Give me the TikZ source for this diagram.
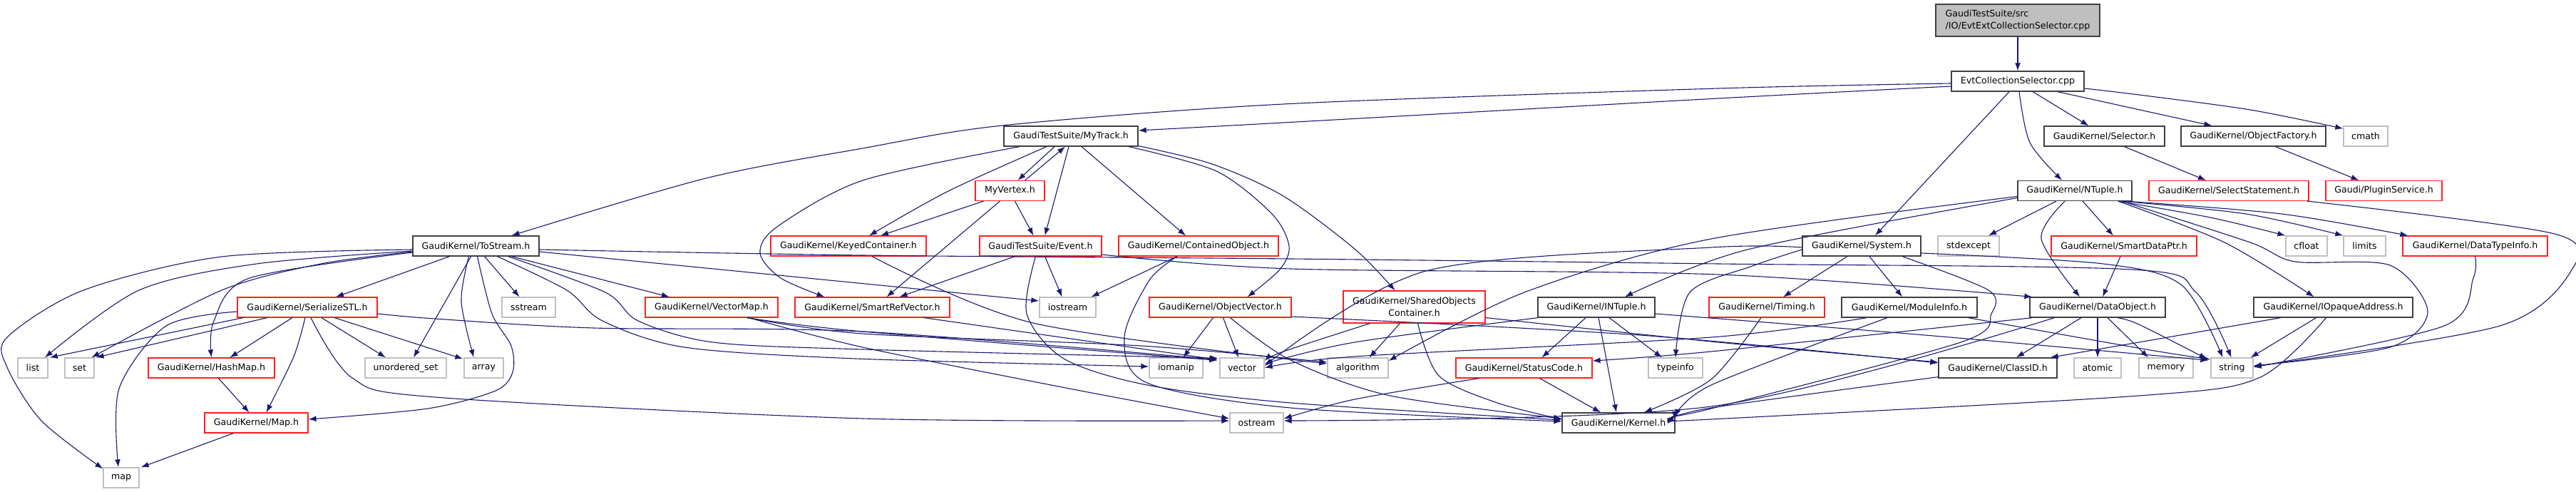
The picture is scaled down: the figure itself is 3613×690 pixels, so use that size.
\documentclass[tikz,border=0pt]{standalone}
\usepackage{fontspec}
\setmainfont{DejaVu Sans}
\usetikzlibrary{arrows.meta,calc}
\definecolor{edgec}{HTML}{191970}
\definecolor{boxk}{HTML}{404040}
\definecolor{boxr}{HTML}{FF2020}
\definecolor{boxg}{HTML}{BFBFBF}
\tikzset{
  x=1pt,y=-1pt,
  nb/.style={draw=boxk, line width=1.3pt, inner sep=0pt, font=\fontsize{12.6}{17.3}\selectfont, text=black},
  nr/.style={nb, draw=boxr, line width=1.1pt},
  ng/.style={nb, draw=boxg},
  e/.style={draw=edgec, line width=1.1pt, -{Latex[length=11pt,width=8pt]}},
}
\newcommand\ed[1]{\draw[e] plot[smooth,tension=.5] coordinates {#1};}
\begin{document}
\begin{tikzpicture}
\useasboundingbox (0,0) rectangle (3613,690);
% nodes
\node[nb,fill=boxg,minimum width=230pt,minimum height=45pt,align=left] (root) at (2830,28.5) {GaudiTestSuite/src\\/IO/EvtExtCollectionSelector.cpp};
\node[nb,minimum width=186pt,minimum height=28pt] (ecs) at (2830,114) {EvtCollectionSelector.cpp};
\node[nb,minimum width=188pt,minimum height=28pt] (mytrack) at (1502,191) {GaudiTestSuite/MyTrack.h};
\node[nb,minimum width=169pt,minimum height=28pt] (selector) at (2951.5,191) {GaudiKernel/Selector.h};
\node[nb,minimum width=203pt,minimum height=28pt] (objfactory) at (3160.5,191) {GaudiKernel/ObjectFactory.h};
\node[ng,minimum width=62pt,minimum height=28pt] (cmath) at (3318,191) {cmath};
\node[nr,minimum width=97pt,minimum height=28pt] (myvertex) at (1416.5,267.5) {MyVertex.h};
\node[nb,minimum width=160pt,minimum height=28pt] (ntuple) at (2910,267.5) {GaudiKernel/NTuple.h};
\node[nr,minimum width=224pt,minimum height=28pt] (selectstmt) at (3126,267.5) {GaudiKernel/SelectStatement.h};
\node[nr,minimum width=163pt,minimum height=28pt] (plugin) at (3343.5,267.5) {Gaudi/PluginService.h};
\node[nb,minimum width=177pt,minimum height=28pt] (tostream) at (667.5,345) {GaudiKernel/ToStream.h};
\node[nr,minimum width=218pt,minimum height=28pt] (keyed) at (1190,345) {GaudiKernel/KeyedContainer.h};
\node[nr,minimum width=171pt,minimum height=28pt] (event) at (1459.5,345) {GaudiTestSuite/Event.h};
\node[nr,minimum width=224pt,minimum height=28pt] (contained) at (1681,345) {GaudiKernel/ContainedObject.h};
\node[nb,minimum width=166pt,minimum height=28pt] (system) at (2611,345) {GaudiKernel/System.h};
\node[ng,minimum width=86pt,minimum height=28pt] (stdexcept) at (2761,345) {stdexcept};
\node[nr,minimum width=204pt,minimum height=28pt] (smartdataptr) at (2979,345) {GaudiKernel/SmartDataPtr.h};
\node[ng,minimum width=58pt,minimum height=28pt] (cfloat) at (3235,345) {cfloat};
\node[ng,minimum width=59pt,minimum height=28pt] (limits) at (3316.5,345) {limits};
\node[nr,minimum width=203pt,minimum height=28pt] (datatypeinfo) at (3471.5,345) {GaudiKernel/DataTypeInfo.h};
\node[nr,minimum width=196pt,minimum height=28pt] (serialize) at (431,431) {GaudiKernel/SerializeSTL.h};
\node[ng,minimum width=75pt,minimum height=28pt] (sstream) at (741.5,431) {sstream};
\node[nr,minimum width=186pt,minimum height=28pt] (vectormap) at (998,431) {GaudiKernel/VectorMap.h};
\node[nr,minimum width=217pt,minimum height=28pt] (smartref) at (1223.5,431) {GaudiKernel/SmartRefVector.h};
\node[ng,minimum width=79pt,minimum height=28pt] (iostream) at (1497.5,431) {iostream};
\node[nr,minimum width=199pt,minimum height=28pt] (objvector) at (1711.5,431) {GaudiKernel/ObjectVector.h};
\node[nr,minimum width=199pt,minimum height=45pt,align=center] (shared) at (1983.5,430.5) {GaudiKernel/SharedObjects\\Container.h};
\node[nb,minimum width=164pt,minimum height=28pt] (intuple) at (2239,431) {GaudiKernel/INTuple.h};
\node[nr,minimum width=162pt,minimum height=28pt] (timing) at (2478,431) {GaudiKernel/Timing.h};
\node[nb,minimum width=190pt,minimum height=28pt] (moduleinfo) at (2678,431) {GaudiKernel/ModuleInfo.h};
\node[nb,minimum width=190pt,minimum height=28pt] (dataobject) at (2942,431) {GaudiKernel/DataObject.h};
\node[nb,minimum width=223pt,minimum height=28pt] (iopaque) at (3272.5,431) {GaudiKernel/IOpaqueAddress.h};
\node[ng,minimum width=42pt,minimum height=28pt] (list) at (46,516) {list};
\node[ng,minimum width=41pt,minimum height=28pt] (set) at (111.5,516) {set};
\node[nr,minimum width=177pt,minimum height=28pt] (hashmap) at (296.5,516) {GaudiKernel/HashMap.h};
\node[ng,minimum width=114pt,minimum height=28pt] (unordset) at (569,516) {unordered\_set};
\node[ng,minimum width=55pt,minimum height=28pt] (array) at (678.5,516) {array};
\node[ng,minimum width=75pt,minimum height=28pt] (iomanip) at (1649.5,516) {iomanip};
\node[ng,minimum width=62pt,minimum height=28pt] (vector) at (1742,516) {vector};
\node[ng,minimum width=85pt,minimum height=28pt] (algorithm) at (1904.5,516) {algorithm};
\node[nr,minimum width=191pt,minimum height=28pt] (statuscode) at (2137.5,516) {GaudiKernel/StatusCode.h};
\node[ng,minimum width=76pt,minimum height=28pt] (typeinfo) at (2350,516) {typeinfo};
\node[nb,minimum width=166pt,minimum height=28pt] (classid) at (2802,516) {GaudiKernel/ClassID.h};
\node[ng,minimum width=66pt,minimum height=28pt] (atomic) at (2942,516) {atomic};
\node[ng,minimum width=76pt,minimum height=28pt] (memory) at (3038,516) {memory};
\node[ng,minimum width=59pt,minimum height=28pt] (string) at (3130.5,516) {string};
\node[nr,minimum width=145pt,minimum height=28pt] (mapH) at (359.5,593) {GaudiKernel/Map.h};
\node[ng,minimum width=75pt,minimum height=28pt] (ostream) at (1762.5,593) {ostream};
\node[nb,minimum width=158pt,minimum height=28pt] (kernel) at (2270,593) {GaudiKernel/Kernel.h};
\node[ng,minimum width=50pt,minimum height=28pt] (map) at (170,670) {map};
% edges
\draw[e] (root.south) -- (ecs.north);
\ed{($(ecs.west)+(0,7)$) (2410,138) (1800,172) ($(mytrack.east)+(0,-8)$)}
\ed{($(ecs.west)+(0,3)$) (2410,124) (1800,146) (1406,176) (1210,208) (990,250) ($(tostream.north)+(50,0)$)}
\draw[e] ($(ecs.south)+(-12,0)$) -- ($(system.north)+(19,0)$);
\ed{($(ecs.south)+(2,0)$) (2847,200) ($(ntuple.north)+(-18,0)$)}
\draw[e] ($(ecs.south)+(21,0)$) -- ($(selector.north)+(-22,0)$);
\draw[e] ($(ecs.south)+(56,0)$) -- ($(objfactory.north)+(-58,0)$);
\ed{($(ecs.east)+(0,10)$) (3000,133) (3156,154) ($(cmath.north west)+(0,4)$)}
\draw[e] ($(mytrack.south)+(-23,0)$) -- ($(myvertex.north)+(11,0)$);
\draw[e] ($(myvertex.north)+(21,0)$) -- ($(mytrack.south)+(-8,0)$);
\draw[e] ($(mytrack.south)+(-3,0)$) -- ($(event.north)+(6,0)$);
\ed{($(mytrack.south)+(-34,0)$) (1330,268) ($(keyed.north)+(29,0)$)}
\draw[e] ($(myvertex.south)+(-37,0)$) -- ($(keyed.north)+(45,0)$);
\draw[e] ($(mytrack.south)+(15,0)$) -- ($(contained.north)+(-18,0)$);
\ed{($(mytrack.south)+(-72,0)$) (1210,253) (1090,318) (1066,355) (1095,390) ($(smartref.north)+(-67,0)$)}
\draw[e] ($(myvertex.south)+(-14,0)$) -- ($(smartref.north)+(20,0)$);
\draw[e] ($(myvertex.south)+(7,0)$) -- ($(event.north)+(-10,0)$);
\ed{($(mytrack.south)+(81,0)$) (1706,240) (1784,300) (1808,345) (1795,378) ($(objvector.north)+(38,0)$)}
\ed{($(mytrack.south east)+(0,-1)$) (1700,230) (1800,275) (1901,350) ($(shared.north)+(-27,0)$)}
% ToStream
\draw[e] ($(tostream.south)+(12,0)$) -- ($(sstream.north)+(-13,0)$);
\draw[e] ($(tostream.south)+(-7,0)$) -- ($(unordset.north)+(11,0)$);
\ed{($(tostream.south)+(-10,0)$) (647,423) ($(array.north)+(-14,0)$)}
\ed{($(tostream.south)+(2,0)$) (690,440) (717,485) (719,522) (695,548) (600,573) ($(mapH.east)+(0,-5)$)}
\ed{($(tostream.south)+(30,0)$) (795,407) (845,450) (960,487) (1200,503) ($(iomanip.west)+(0,-2)$)}
\ed{($(tostream.south)+(45,0)$) (849,410) (895,450) (1000,480) (1210,490) ($(vector.north west)+(-2,1)$)}
\draw[e] ($(tostream.south)+(50,0)$) -- ($(vectormap.north)+(-59,0)$);
\draw[e] ($(tostream.east)+(0,8)$) -- ($(iostream.west)+(0,-9)$);
\ed{($(tostream.east)+(0,5)$) (1210,358) (1810,363) (2410,370) (2990,378) (3080,410) ($(string.north)+(-1,0)$)}
\draw[e] ($(tostream.south)+(-37,0)$) -- ($(serialize.north)+(40,0)$);
\ed{($(tostream.west)+(0,5)$) (311,360) (117,407) (10,473) (10,515) (58,590) ($(map.north west)+(0,2)$)}
\ed{($(tostream.west)+(0,7)$) (360,370) (195,407) ($(list.north)+(17,0)$)}
\ed{($(tostream.west)+(0,8)$) (450,370) (311,407) ($(set.north)+(17,0)$)}
\ed{($(tostream.west)+(0,9)$) (350,390) (300,450) (hashmap.north)}
% SerializeSTL
\ed{($(serialize.west)+(0,6)$) (233,457) (167,545) ($(map.north)+(-4,0)$)}
\draw[e] ($(serialize.south west)+(9,0)$) -- ($(list.north east)+(2,0)$);
\draw[e] ($(serialize.south)+(-56,0)$) -- ($(set.north east)+(2,0)$);
\draw[e] ($(serialize.south)+(-21,0)$) -- ($(hashmap.north)+(26,0)$);
\ed{($(serialize.south)+(-3,0)$) (412,500) ($(mapH.north)+(14,0)$)}
\draw[e] ($(hashmap.south)+(10,0)$) -- ($(mapH.north)+(-10,0)$);
\draw[e] ($(mapH.south)+(-32,0)$) -- ($(map.north east)+(2,0)$);
\ed{($(serialize.south)+(5,0)$) (494,530) (610,557) (1210,587) ($(ostream.west)+(0,-3)$)}
\draw[e] ($(serialize.south)+(20,0)$) -- ($(unordset.north)+(-28,0)$);
\draw[e] ($(serialize.south)+(38,0)$) -- ($(array.north west)+(-1,2)$);
\ed{($(serialize.east)+(0,9)$) (610,447) (833,460) (1210,465) ($(vector.north west)+(-3,3)$)}
% VectorMap
\ed{($(vectormap.south)+(49,0)$) (1210,465) ($(vector.north west)+(-3,4)$)}
\ed{($(vectormap.south)+(50,0)$) (1210,468) (1600,485) ($(algorithm.west)+(0,-8)$)}
\ed{($(vectormap.south)+(52,0)$) (1210,487) (1500,545) ($(ostream.west)+(0,-6)$)}
\draw[e] ($(smartref.south)+(72,0)$) -- ($(vector.north west)+(-3,3)$);
\ed{($(keyed.south)+(33,0)$) (1449,453) ($(algorithm.west)+(0,-6)$)}
% Event
\draw[e] ($(event.south)+(-36,0)$) -- ($(smartref.north)+(38,0)$);
\draw[e] ($(event.south)+(6,0)$) -- ($(iostream.north)+(-8,0)$);
\ed{($(event.south)+(-7,0)$) (1440,440) (1492,503) (1609,540) (1810,565) ($(kernel.west)+(0,-4)$)}
\ed{($(event.east)+(0,12)$) (1810,377) (2410,385) ($(dataobject.north west)+(4,0)$)}
% Contained
\draw[e] ($(contained.south)+(-30,0)$) -- ($(iostream.north)+(33,0)$);
\ed{($(contained.south)+(-30,0)$) (1612,393) (1577,473) (1609,537) (1810,572) ($(kernel.west)+(0,-2)$)}
% ObjectVector
\draw[e] ($(objvector.south)+(-10,0)$) -- ($(iomanip.north)+(10,0)$);
\draw[e] ($(objvector.south)+(4,0)$) -- ($(vector.north)+(-5,0)$);
\ed{($(objvector.south)+(14,0)$) (1810,505) (1950,555) ($(kernel.west)+(0,-6)$)}
\ed{($(objvector.east)+(0,13)$) (2300,470) ($(classid.west)+(0,-7)$)}
% Shared
\ed{($(shared.south)+(-62,0)$) (1800,493) ($(vector.east)+(0,-10)$)}
\draw[e] ($(shared.south)+(-20,0)$) -- ($(algorithm.north)+(16,0)$);
\ed{($(shared.south)+(5,0)$) (2018,527) (2100,565) ($(kernel.west)+(0,-5)$)}
\ed{($(shared.east)+(0,15)$) (2410,480) ($(classid.west)+(0,-8)$)}
% INTuple
\draw[e] ($(intuple.south)+(-15,0)$) -- ($(statuscode.north)+(25,0)$);
\draw[e] ($(intuple.south)+(3,0)$) -- ($(kernel.north)+(-3,0)$);
\draw[e] ($(intuple.south)+(18,0)$) -- ($(typeinfo.north)+(-19,0)$);
\ed{(intuple.south west) (1900,480) ($(vector.east)+(0,-6)$)}
\ed{($(intuple.east)+(0,9)$) (2700,470) ($(string.north west)+(-3,4)$)}
% StatusCode
\ed{($(statuscode.south)+(-63,0)$) (1900,560) ($(ostream.east)+(0,-6)$)}
\draw[e] ($(statuscode.south)+(22,0)$) -- ($(kernel.north)+(-25,0)$);
\ed{($(timing.south)+(-8,0)$) (2400,532) ($(kernel.north)+(36,0)$)}
% System
\draw[e] ($(system.south)+(-20,0)$) -- ($(timing.north)+(23,0)$);
\draw[e] ($(system.south)+(11,0)$) -- ($(moduleinfo.north)+(-10,0)$);
\ed{($(system.south)+(57,0)$) (2789,407) (2793,440) (2750,480) (2400,573) ($(kernel.east)+(0,-12)$)}
\ed{($(system.east)+(0,10)$) (2950,370) (3060,400) ($(string.north)+(-13,0)$)}
\ed{($(system.west)+(0,2)$) (2400,347) (2000,380) ($(vector.east)+(0,-3)$)}
\ed{($(system.west)+(0,5)$) (2458,373) (2370,410) (typeinfo.north)}
% ModuleInfo
\ed{($(moduleinfo.south)+(-60,0)$) (2400,473) (1900,500) (vector.east)}
\ed{($(moduleinfo.south)+(-31,0)$) (2400,540) ($(kernel.east)+(0,-8)$)}
\ed{($(moduleinfo.south east)+(-13,0)$) (3010,490) ($(string.west)+(0,-12)$)}
% DataObject
\draw[e] ($(dataobject.south)+(-23,0)$) -- ($(classid.north)+(26,0)$);
\draw[e] (dataobject.south) -- (atomic.north);
\draw[e] ($(dataobject.south)+(14,0)$) -- ($(memory.north)+(-25,0)$);
\ed{($(dataobject.south)+(28,0)$) (3000,455) ($(string.north west)+(-5,2)$)}
\ed{($(dataobject.south west)+(4,0)$) (2400,493) ($(statuscode.east)+(0,-10)$)}
\ed{($(dataobject.south west)+(35,0)$) (2400,570) ($(ostream.east)+(0,-3)$)}
\ed{($(classid.south west)+(0,-2)$) (2400,572) ($(kernel.east)+(0,-5)$)}
% IOpaque
\draw[e] ($(iopaque.south)+(-24,0)$) -- ($(string.north east)+(-4,0)$);
\ed{($(iopaque.south)+(-74,0)$) (3000,480) ($(classid.north east)+(-10,0)$)}
\ed{($(iopaque.south)+(-10,0)$) (3168,530) (3000,555) (2400,588) ($(kernel.east)+(0,-4)$)}
\draw[e] ($(smartdataptr.south)+(-5,0)$) -- ($(dataobject.north)+(7,0)$);
% NTuple
\ed{($(ntuple.south)+(-14,0)$) (2863,335) ($(dataobject.north)+(-25,0)$)}
\draw[e] ($(ntuple.south)+(-26,0)$) -- ($(stdexcept.north)+(28,0)$);
\draw[e] ($(ntuple.south)+(11,0)$) -- ($(smartdataptr.north)+(-15,0)$);
\ed{($(ntuple.south east)+(-20,0)$) (3100,305) (cfloat.north west)}
\ed{($(ntuple.south east)+(-15,0)$) (3150,300) (limits.north west)}
\ed{($(ntuple.south east)+(-10,0)$) (3200,300) ($(datatypeinfo.north west)+(8,0)$)}
\ed{($(ntuple.south east)+(-20,0)$) (3120,340) ($(iopaque.north)+(-27,0)$)}
\ed{($(ntuple.south east)+(-15,0)$) (3156,340) (3219,367) (3352,372) (3405,437) (3352,487) ($(string.east)+(0,-3)$)}
\ed{($(ntuple.west)+(0,8)$) (2400,335) (2138,410) ($(algorithm.east)+(0,-10)$)}
\ed{($(ntuple.west)+(0,10)$) (2451,350) ($(intuple.north)+(40,0)$)}
\draw[e] ($(selector.south)+(28,0)$) -- ($(selectstmt.north)+(-32,0)$);
\draw[e] ($(objfactory.south)+(31,0)$) -- ($(plugin.north)+(-35,0)$);
\ed{($(selectstmt.south east)+(-3,0)$) (3583,328) (3606,380) (3506,457) ($(string.east)+(0,-2)$)}
\ed{(datatypeinfo.south) (3469,390) (3428,457) ($(string.east)+(0,-1)$)}
\end{tikzpicture}
\end{document}
